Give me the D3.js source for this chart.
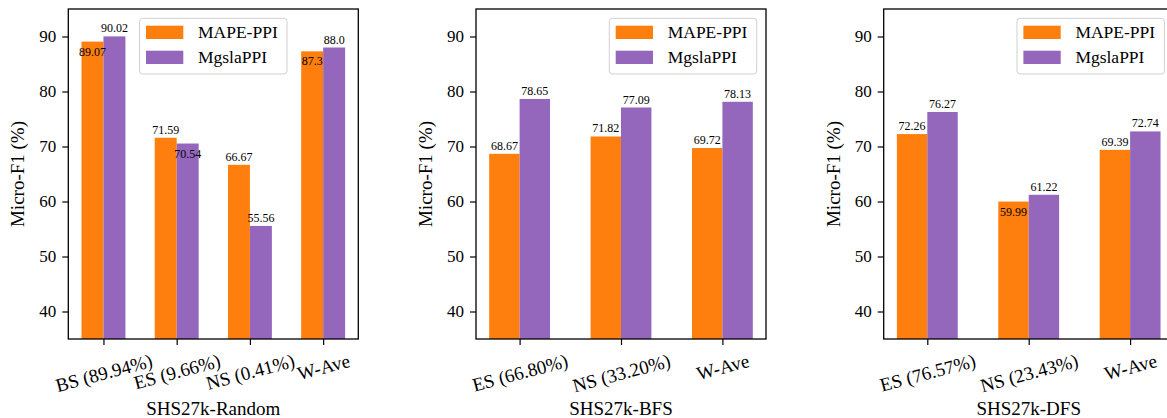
<!DOCTYPE html>
<html>
<head>
<meta charset="utf-8">
<script src="https://cdn.jsdelivr.net/npm/d3@7"></script>
<style>
  body { margin: 0; background: #fff; }
  text { font-family: "Liberation Serif", "Times New Roman", serif; }
</style>
</head>
<body>
<div id="my_dataviz"></div>
<script>

// DATA
var seriesNames = ["MAPE-PPI", "MgslaPPI"];
var yTicks = [40, 50, 60, 70, 80, 90];
var yDomain = [35, 95];
var panelTitles = ["SHS27k-Random", "SHS27k-BFS", "SHS27k-DFS"];

var randomCats  = ["BS (89.94%)", "ES (9.66%)", "NS (0.41%)", "W-Ave"];
var randomMape  = [89.07, 71.59, 66.67, 87.3];
var randomMgsla = [90.02, 70.54, 55.56, 88.0];

var bfsCats  = ["ES (66.80%)", "NS (33.20%)", "W-Ave"];
var bfsMape  = [68.67, 71.82, 69.72];
var bfsMgsla = [78.65, 77.09, 78.13];

var dfsCats  = ["ES (76.57%)", "NS (23.43%)", "W-Ave"];
var dfsMape  = [72.26, 59.99, 69.39];
var dfsMgsla = [76.27, 61.22, 72.74];

// which value labels sit just under the bar top in the original (by category index)
var panels = [
  {title: panelTitles[0], cats: randomCats, series: [randomMape, randomMgsla], below: [[0, 3], [1]], legend: "center"},
  {title: panelTitles[1], cats: bfsCats,    series: [bfsMape, bfsMgsla],       below: [[], []],     legend: "right"},
  {title: panelTitles[2], cats: dfsCats,    series: [dfsMape, dfsMgsla],       below: [[1], []],    legend: "right"}
];

var colors = ["#ff7f0e", "#9467bd"];

// LAYOUT
var W = 1167, H = 418;
var lefts = [68.3, 476, 883.7];
var axW = 290, axTop = 9, axBottom = 339;
var axH = axBottom - axTop;
var barW = 0.3;

var svg = d3.select("#my_dataviz")
  .append("svg")
    .attr("width", W)
    .attr("height", H)
    .attr("style", "background-color:white; display:block");

// python-like number to string (88.0 stays "88.0")
function fmt(v) {
  return Number.isInteger(v) ? v.toFixed(1) : String(v);
}

panels.forEach(function(p, pi) {
  var n = p.cats.length;
  var span = (n - 1) + 2 * barW;
  var pad = 0.05 * span;

  var x = d3.scaleLinear()
    .domain([-barW - pad, n - 1 + barW + pad])
    .range([0, axW]);

  var y = d3.scaleLinear()
    .domain(yDomain)
    .range([axH, 0]);

  var g = svg.append("g")
    .attr("transform", "translate(" + lefts[pi] + "," + axTop + ")");

  // bars
  p.series.forEach(function(vals, si) {
    g.selectAll(".bar" + si)
      .data(vals)
      .enter()
      .append("rect")
        .attr("x", function(d, i) { return x(i - barW + si * barW); })
        .attr("width", x(barW) - x(0))
        .attr("y", function(d) { return y(d); })
        .attr("height", function(d) { return axH - y(d); })
        .attr("fill", colors[si]);
  });

  // value labels
  p.series.forEach(function(vals, si) {
    g.selectAll(".lab" + si)
      .data(vals)
      .enter()
      .append("text")
        .attr("x", function(d, i) { return x(i - barW / 2 + si * barW); })
        .attr("y", function(d, i) {
          return p.below[si].indexOf(i) >= 0 ? y(d) + 14 : y(d) - 4;
        })
        .attr("text-anchor", "middle")
        .attr("font-size", "12px")
        .attr("fill", "#000")
        .text(function(d) { return fmt(d); });
  });

  // y axis
  var yAxis = g.append("g")
    .call(d3.axisLeft(y).tickValues(yTicks).tickSize(6).tickPadding(6));
  yAxis.select(".domain").remove();
  yAxis.selectAll(".tick line").attr("stroke", "#000").attr("stroke-width", 1.2);
  yAxis.selectAll(".tick text")
    .attr("font-size", "17px")
    .attr("font-family", "Liberation Serif, serif")
    .attr("fill", "#000");

  // x axis
  var xAxis = g.append("g")
    .attr("transform", "translate(0," + axH + ")")
    .call(d3.axisBottom(x).tickValues(d3.range(n)).tickFormat(function(i) { return p.cats[i]; }).tickSize(6));
  xAxis.select(".domain").remove();
  xAxis.selectAll(".tick line").attr("stroke", "#000").attr("stroke-width", 1.2);
  var ang = 15 * Math.PI / 180;
  xAxis.selectAll(".tick text")
    .attr("font-size", "19px")
    .attr("font-family", "Liberation Serif, serif")
    .attr("fill", "#000")
    .attr("y", null)
    .attr("dy", null)
    .attr("dominant-baseline", "central")
    .attr("text-anchor", "middle")
    .attr("transform", function() {
      var w = this.getComputedTextLength();
      var hh = (w * Math.sin(ang) + 19 * Math.cos(ang)) / 2;
      return "translate(0," + (12 + hh) + ") rotate(-15)";
    });

  // spines
  g.append("rect")
    .attr("x", 0)
    .attr("y", 0)
    .attr("width", axW)
    .attr("height", axH)
    .attr("fill", "none")
    .attr("stroke", "#000")
    .attr("stroke-width", 1.3);

  // axis titles
  g.append("text")
    .attr("transform", "translate(" + (-44) + "," + (axH / 2) + ") rotate(-90)")
    .attr("text-anchor", "middle")
    .attr("font-size", "19px")
    .attr("fill", "#000")
    .text("Micro-F1 (%)");

  g.append("text")
    .attr("x", axW / 2)
    .attr("y", H - axTop - 3)
    .attr("text-anchor", "middle")
    .attr("font-size", "19px")
    .attr("fill", "#000")
    .text(p.title);

  // legend
  var lw = 147.4, lh = 55.7;
  var lx = p.legend === "center" ? (axW - lw) / 2 : axW - 9.3 - lw;
  var leg = g.append("g")
    .attr("transform", "translate(" + lx + ",9.3)");
  leg.append("rect")
    .attr("width", lw)
    .attr("height", lh)
    .attr("rx", 3)
    .attr("fill", "white")
    .attr("fill-opacity", 0.8)
    .attr("stroke", "#d0d0d0")
    .attr("stroke-width", 1);
  seriesNames.forEach(function(name, si) {
    leg.append("rect")
      .attr("x", 6.4)
      .attr("y", 7.4 + si * 25)
      .attr("width", 37.3)
      .attr("height", 13.3)
      .attr("fill", colors[si]);
    leg.append("text")
      .attr("x", 58.4)
      .attr("y", 7.4 + si * 25 + 6.65)
      .attr("dominant-baseline", "central")
      .attr("font-size", "17.5px")
      .attr("fill", "#000")
      .text(name);
  });
});

</script>
</body>
</html>
